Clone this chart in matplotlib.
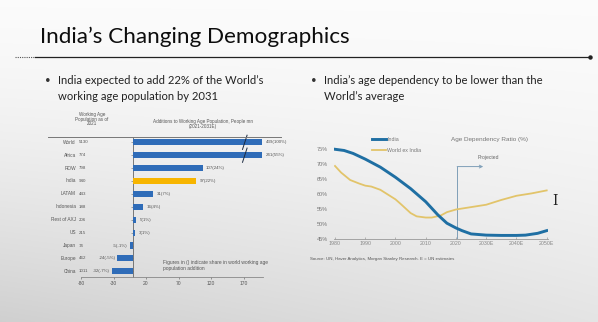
import numpy as np
import matplotlib
matplotlib.use("Agg")
import matplotlib.pyplot as plt
from matplotlib.lines import Line2D

# ---------------- data: left bar chart ----------------
countries = ["World", "Africa", "ROW", "India", "LATAM", "Indonesia",
             "Rest of AXJ", "US", "Japan", "Europe", "China"]
pop_2021 = [5130, 774, 798, 940, 443, 188, 206, 215, 74, 462, 1011]
additions = [439, 241, 107, 97, 31, 16, 5, 3, -5, -24, -32]
shares = [100, 55, 24, 22, 7, 4, 1, 1, -1, -5, -7]
bar_ticks = [-80, -30, 20, 70, 120, 170]

# ---------------- data: right line chart ----------------
years_india = [1980, 1983, 1986, 1990, 1995, 2000, 2005, 2010, 2014, 2017,
               2020, 2022, 2025, 2030, 2035, 2040, 2043, 2047, 2050]
india = [75.0, 74.6, 73.6, 71.7, 69.0, 65.6, 61.8, 57.4, 53.0, 50.2,
         48.6, 47.7, 46.6, 46.2, 46.1, 46.1, 46.2, 46.8, 47.7]
years_world = [1980, 1982, 1985, 1988, 1990, 1992, 1995, 2000, 2002, 2005,
               2007, 2010, 2012, 2015, 2017, 2020, 2025, 2030, 2035, 2040,
               2045, 2050]
world_ex_india = [69.4, 67.2, 64.7, 63.5, 62.8, 62.5, 61.4, 58.2, 56.4, 53.6,
                  52.5, 52.1, 52.1, 52.8, 53.9, 54.8, 55.6, 56.4, 58.0, 59.4,
                  60.2, 61.2]
line_yticks = [45, 50, 55, 60, 65, 70, 75]
line_xticks = [1980, 1990, 2000, 2010, 2020, 2030, 2040, 2050]
line_xticklabels = ["1980", "1990", "2000", "2010", "2020", "2030E", "2040E", "2050E"]

W, H = 598, 322
fig = plt.figure(figsize=(W / 100, H / 100), dpi=100)


def fx(x):
    return x / W


def fy(y):
    return 1 - y / H


# ---------------- slide background ----------------
bg = fig.add_axes([0, 0, 1, 1], zorder=-10)
yy, xx = np.mgrid[0:1:200j, 0:1:300j]
shade = 0.985 - 0.15 * (yy ** 1.6) * (1 - 0.4 * xx) - 0.02 * (1 - xx) * yy
bg.imshow(np.dstack([shade] * 3), aspect="auto", extent=[0, 1, 0, 1],
          origin="upper", interpolation="bilinear")
bg.set_axis_off()

SLIDE_FONT = ["Lato", "DejaVu Sans"]
CHART_FONT = ["Liberation Sans", "DejaVu Sans"]

# title and rule
fig.text(fx(40), fy(37), "India\u2019s Changing Demographics", fontsize=16.2,
         family=SLIDE_FONT, color="#0d0d0d", va="center", ha="left")
fig.add_artist(Line2D([fx(15), fx(35)], [fy(57), fy(57)], color="#555555",
                      lw=0.8, ls=(0, (1, 1))))
fig.add_artist(Line2D([fx(35), fx(590)], [fy(57), fy(57)], color="#222222", lw=0.9))
fig.add_artist(Line2D([fx(590)], [fy(57)], marker="o", ms=2.2, color="#222222"))

# bullets
for bx, lines in [(45, ["India expected to add 22% of the World\u2019s",
                        "working age population by 2031"]),
                  (311, ["India\u2019s age dependency to be lower than the",
                         "World\u2019s average"])]:
    fig.text(fx(bx), fy(80), "\u2022", fontsize=7, family=SLIDE_FONT,
             color="#333333", va="center", ha="left")
    for i, ln in enumerate(lines):
        fig.text(fx(bx + 13), fy(80 + 16 * i), ln, fontsize=8.15,
                 family=SLIDE_FONT, color="#222222", va="center", ha="left")

# ---------------- left: bar chart ----------------
BLUE = "#2f6cb8"
GOLD = "#f7b500"
CAP = 199
axb = fig.add_axes([fx(81), fy(277), (263 - 81) / W, (277 - 137) / H])
axb.set_facecolor("none")
ypos = np.arange(len(countries))
shown = [min(v, CAP) for v in additions]
colors = [GOLD if c == "India" else BLUE for c in countries]
axb.barh(ypos, shown, height=0.47, color=colors, zorder=3)
axb.set_xlim(-80, 200)
axb.set_ylim(10.44, -0.41)
for s in ["top", "right"]:
    axb.spines[s].set_visible(False)
axb.spines["left"].set_position(("data", 0))
axb.spines["left"].set_color("#666666")
axb.spines["left"].set_linewidth(0.6)
axb.spines["bottom"].set_color("#888888")
axb.spines["bottom"].set_linewidth(0.6)
axb.set_xticks(bar_ticks)
axb.set_xticklabels([str(t) for t in bar_ticks], family=CHART_FONT)
axb.tick_params(axis="x", labelsize=3.6, colors="#555555", length=1.2,
                width=0.4, pad=1.5)
axb.set_yticks(ypos)
axb.set_yticklabels([])
axb.tick_params(axis="y", length=1.2, width=0.4, colors="#666666")

ytr = axb.get_yaxis_transform()
for i, (c, p) in enumerate(zip(countries, pop_2021)):
    axb.text(-0.027, i, c, transform=ytr, ha="right", va="center",
             fontsize=3.4, family=CHART_FONT, color="#555555")
    axb.text(-0.011, i, str(p), transform=ytr, ha="left", va="center",
             fontsize=3.2, family=CHART_FONT, color="#555555")

for i, (v, s, sv) in enumerate(zip(additions, shares, shown)):
    lab = f"{v}({s}%)"
    if v >= 0:
        axb.annotate(lab, (sv, i), xytext=(2.5, 0), textcoords="offset points",
                     ha="left", va="center", fontsize=3.2, family=CHART_FONT,
                     color="#555555", annotation_clip=False)
    else:
        axb.annotate(lab, (sv, i), xytext=(-1.5, 0), textcoords="offset points",
                     ha="right", va="center", fontsize=3.2, family=CHART_FONT,
                     color="#555555", annotation_clip=False)
    if v > CAP:
        axb.plot([168.5, 175.5], [i + 0.55, i - 0.55], color="#1a2a40",
                 lw=0.7, zorder=4, clip_on=False)

fig.add_artist(Line2D([fx(48), fx(281)], [fy(137), fy(137)], color="#777777", lw=0.7))
fig.text(fx(92), fy(119), "Working Age\nPopulation as of\n2021", ha="center",
         va="center", fontsize=3.3, family=CHART_FONT, color="#555555",
         linespacing=0.95)
fig.text(fx(203), fy(124), "Additions to Working Age Population, People mn\n(2021-2031E)",
         ha="center", va="center", fontsize=3.3, family=CHART_FONT,
         color="#555555", linespacing=0.95)
fig.text(fx(163), fy(265.5), "Figures in () indicate share in world working age\npopulation addition",
         ha="left", va="center", fontsize=3.5, family=CHART_FONT,
         color="#555555", linespacing=1.05)

# ---------------- right: line chart ----------------
LBLUE = "#1f6fa3"
LGOLD = "#e2c46a"
axl = fig.add_axes([fx(333.5), fy(238.7), (548.2 - 333.5) / W, (238.7 - 146.3) / H])
axl.set_facecolor("none")
axl.plot(years_world, world_ex_india, color=LGOLD, lw=1.3, zorder=3)
axl.plot(years_india, india, color=LBLUE, lw=2.1, zorder=4)
axl.set_xlim(1979.5, 2050.5)
axl.set_ylim(45, 76)
for s in ["top", "right", "left"]:
    axl.spines[s].set_visible(False)
axl.spines["bottom"].set_color("#999999")
axl.spines["bottom"].set_linewidth(0.6)
axl.set_yticks(line_yticks)
axl.set_yticklabels([f"{t}%" for t in line_yticks], family=CHART_FONT)
axl.tick_params(axis="y", length=0, labelsize=4.0, colors="#777777", pad=4)
axl.set_xticks(line_xticks)
axl.set_xticklabels(line_xticklabels, family=CHART_FONT)
axl.tick_params(axis="x", length=1.5, width=0.4, labelsize=3.8,
                colors="#888888", pad=2, direction="in")

PROJ = "#7f9fb8"
axl.plot([2020.4, 2020.4], [45, 69.2], color=PROJ, lw=0.7, zorder=2)
axl.annotate("", xy=(2029.0, 69.2), xytext=(2020.4, 69.2),
             arrowprops=dict(arrowstyle="->", color=PROJ, lw=0.7,
                             shrinkA=0, shrinkB=0, mutation_scale=5))
axl.text(2027.0, 72.1, "Projected", fontsize=3.6, family=CHART_FONT,
         color="#666666", ha="left", va="center")

fig.text(fx(451), fy(139), "Age Dependency Ratio (%)", fontsize=4.6,
         family=CHART_FONT, color="#777777", ha="left", va="center")
for yv, col, lw, lab in [(139.3, LBLUE, 2.1, "India"),
                         (150, LGOLD, 1.3, "World ex India")]:
    fig.add_artist(Line2D([fx(372), fx(386)], [fy(yv), fy(yv)], color=col, lw=lw))
    fig.text(fx(387), fy(yv), lab, fontsize=3.8, family=CHART_FONT,
             color="#777777", ha="left", va="center")

fig.text(fx(310), fy(259), "Source: UN, Haver Analytics, Morgan Stanley Research. E = UN estimates",
         fontsize=3.2, family=CHART_FONT, color="#555555", ha="left", va="center")

# mouse cursor glyph visible in the screenshot
fig.text(fx(555), fy(201), "I", fontsize=10, family=["DejaVu Serif"],
         color="#222222", ha="center", va="center")

fig.savefig("out.png", dpi=100)
